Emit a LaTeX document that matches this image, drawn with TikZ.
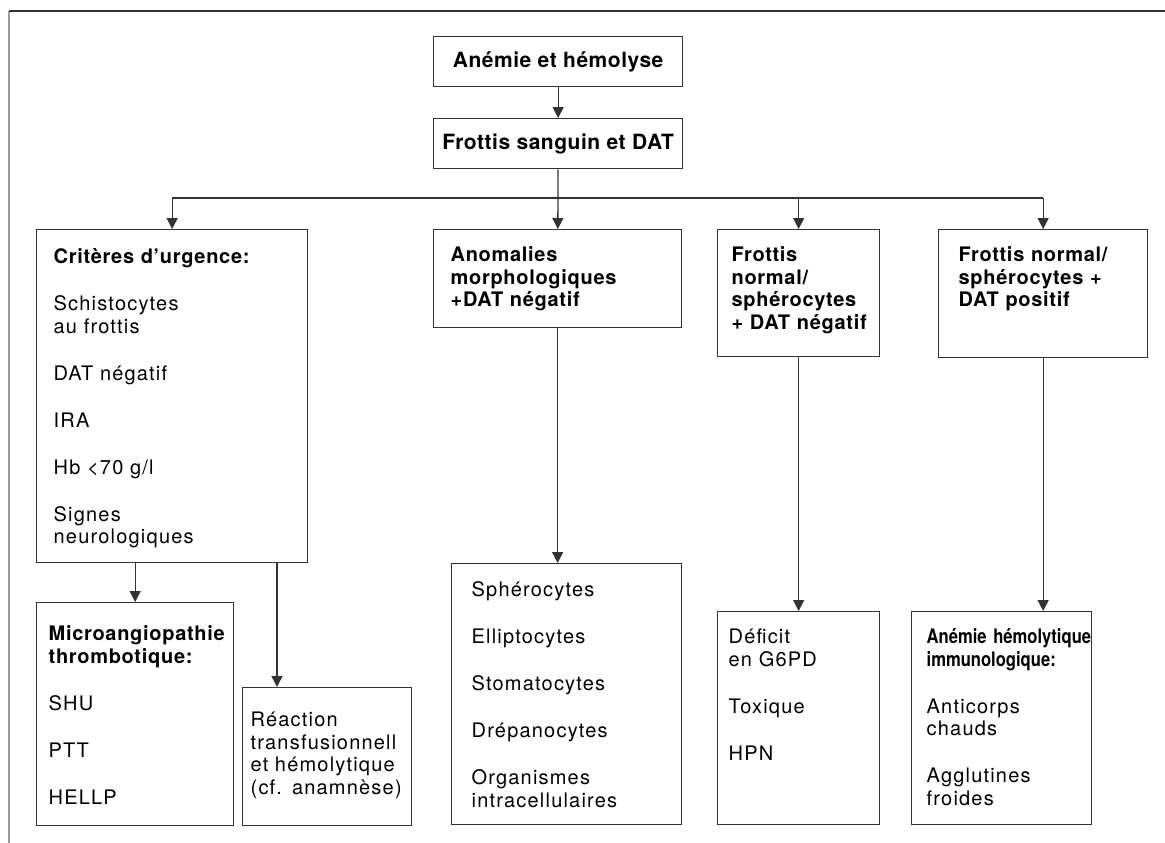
\documentclass[tikz,border=0pt]{standalone}
\usepackage{fontspec}
\setmainfont{TeX Gyre Heros}
\newfontfamily\itemfont{texgyreheros-regular.otf}[LetterSpace=6]
\newfontfamily\headfont{texgyreheros-bold.otf}[LetterSpace=3.5]
\newfontfamily\titlefont{texgyreheros-bold.otf}[LetterSpace=2.5]
\newfontfamily\narrowfont{texgyreheros-bold.otf}[FakeStretch=0.83]
\usetikzlibrary{arrows.meta}

\definecolor{linegray}{HTML}{333333}
\definecolor{framegray}{HTML}{9A9A9A}

\tikzset{
  panel/.style={draw=linegray, line width=1.3pt, anchor=north west, inner sep=0pt, align=left, font=\itemfont\fontsize{20}{22.5}\selectfont},
  titlebox/.style={draw=linegray, line width=1.3pt, anchor=north west, inner sep=0pt, align=center, minimum width=249pt, minimum height=50pt, font=\titlefont\fontsize{21}{25}\selectfont},
  arr/.style={draw=linegray, line width=1.3pt, -{Triangle[length=11pt,width=11pt]}},
}
\newcommand{\pad}[1]{\leftskip=#1pt\relax}
\newcommand{\itemgap}{\\[24.5pt]}

\begin{document}
\begin{tikzpicture}[x=1pt, y=-1pt]
\useasboundingbox (0,0) rectangle (1165,843);
% frame
\draw[framegray, line width=1.2pt] (9,843) -- (9,11);
\draw[linegray, line width=1.2pt] (9,11) -- (1165,11);

% top
\node[titlebox] (start) at (433,36) {Anémie et hémolyse};
\node[titlebox] (smear) at (433,118) {Frottis sanguin et DAT};

% second row
\node[panel, text width=271pt, text height=34pt, text depth=299pt] (urg) at (36,229) {\pad{17}\headfont Critères d’urgence:\itemgap\itemfont Schistocytes\\au frottis\itemgap DAT négatif\itemgap IRA\itemgap Hb <70 g/l\itemgap Signes\\neurologiques\par};
\node[panel, text width=248pt, text height=32pt, text depth=66pt] (morph) at (433,229) {\pad{17}\headfont Anomalies\\morphologiques\\+DAT négatif\par};
\node[panel, text width=162pt, text height=32pt, text depth=95pt] (neg) at (717,229) {\pad{14}\headfont Frottis\\normal/\\sphérocytes\\+ DAT négatif\par};
\node[panel, text width=209pt, text height=32pt, text depth=96pt] (pos) at (938,229) {\pad{20}\headfont Frottis normal/\\sphérocytes +\\DAT positif\par};

% third row
\node[panel, text width=197pt, text height=38pt, text depth=185pt] (mat) at (36,602) {\pad{12}\headfont Microangiopathie\\thrombotique:\itemgap\itemfont SHU\itemgap PTT\itemgap HELLP\par};
\node[panel, text width=169pt, text height=39pt, text depth=99pt] (transf) at (242,687) {\pad{8}Réaction\\transfusionnell\\et hémolytique\\(cf. anamnèse)\par};
\node[panel, text width=230pt, text height=33pt, text depth=228pt] (cells) at (451,563) {\pad{20}Sphérocytes\itemgap Elliptocytes\itemgap Stomatocytes\itemgap Drépanocytes\itemgap Organismes\\intracellulaires\par};
\node[panel, text width=162pt, text height=32pt, text depth=181pt] (enz) at (717,611) {\pad{11}Déficit\\en G6PD\itemgap Toxique\itemgap HPN\par};
\node[panel, text width=180pt, text height=32pt, text depth=181pt] (immun) at (911,611) {\pad{15}\narrowfont\mbox{Anémie hémolytique}\\immunologique:\itemgap\itemfont Anticorps\\chauds\itemgap Agglutines\\froides\par};

% connectors
\draw[arr] (start) -- (smear);
\draw[arr] (smear) -- (morph);
\coordinate (bus) at (0,198);
\draw[linegray, line width=1.3pt] (urg.north |- bus) -- (pos.north |- bus);
\foreach \n in {urg,neg,pos} \draw[arr] (\n.north |- bus) -- (\n.north);
\draw[arr] (mat.north |- urg.south) -- (mat.north);
\draw[arr] ([xshift=35pt]transf.north west |- urg.south) -- ([xshift=35pt]transf.north west);
\draw[arr] (morph.south) -- (morph.south |- cells.north);
\draw[arr] (neg) -- (enz);
\draw[arr] (pos.south) -- (pos.south |- immun.north);
\end{tikzpicture}
\end{document}
